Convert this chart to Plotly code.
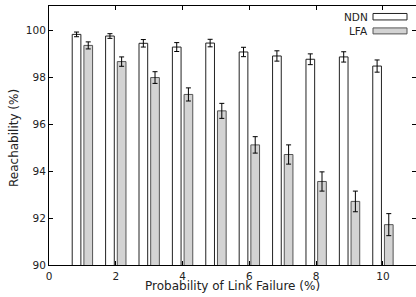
import plotly.graph_objects as go

x_vals = [1, 2, 3, 4, 5, 6, 7, 8, 9, 10]
ndn = [99.83, 99.76, 99.45, 99.29, 99.46, 99.08, 98.91, 98.77, 98.87, 98.48]
ndn_err = [0.10, 0.10, 0.16, 0.19, 0.16, 0.20, 0.22, 0.23, 0.22, 0.26]
lfa = [99.36, 98.67, 97.99, 97.27, 96.57, 95.12, 94.71, 93.56, 92.71, 91.72]
lfa_err = [0.15, 0.20, 0.25, 0.28, 0.32, 0.35, 0.41, 0.41, 0.44, 0.47]
x_ticks = [0, 2, 4, 6, 8, 10]
y_ticks = [90, 92, 94, 96, 98, 100]

W, H = 416, 297
L, R, T, B = 49, 0, 5.5, 31.5
pw, ph = W - L - R, H - T - B

def px(xp):
    return (xp - L) / pw

def py(yp):
    return (H - B - yp) / ph

font = "DejaVu Sans, Liberation Sans, Arial, sans-serif"

fig = go.Figure()
fig.add_trace(go.Bar(
    x=x_vals, y=ndn, name="NDN",
    marker=dict(color="white", line=dict(color="#222", width=1)),
    error_y=dict(type="data", array=ndn_err, color="black", thickness=1, width=2.5),
    showlegend=False,
))
fig.add_trace(go.Bar(
    x=x_vals, y=lfa, name="LFA",
    marker=dict(color="#d3d3d3", line=dict(color="#555", width=1)),
    error_y=dict(type="data", array=lfa_err, color="black", thickness=1, width=2.5),
    showlegend=False,
))
# invisible trace for right-side ticks
fig.add_trace(go.Scatter(x=[0], y=[90], yaxis="y2", mode="markers",
                         marker=dict(opacity=0), showlegend=False, hoverinfo="skip"))

fig.update_layout(
    width=W, height=H,
    margin=dict(l=L, r=R, t=T, b=B, pad=0, autoexpand=False),
    paper_bgcolor="white", plot_bgcolor="white",
    barmode="group", bargap=0.3, bargroupgap=0.257,
    font=dict(family=font, size=11, color="#222"),
    xaxis=dict(range=[0, 10.99], tickvals=x_ticks, ticks="inside", ticklen=4,
               tickcolor="black", showline=True, linecolor="black", linewidth=1,
               mirror="ticks", showgrid=False, zeroline=False, automargin=False,
               ticklabelstandoff=1,
               tickfont=dict(size=10.5, family=font)),
    yaxis=dict(range=[90, 101.04], tickvals=y_ticks, ticks="inside", ticklen=4,
               tickcolor="black", showline=True, linecolor="black", linewidth=1,
               showgrid=False, zeroline=False, automargin=False,
               tickfont=dict(size=10.5, family=font)),
    yaxis2=dict(range=[90, 101.04], tickvals=y_ticks, ticks="inside", ticklen=4,
                tickcolor="black", overlaying="y", side="right", showticklabels=False,
                showline=False, showgrid=False, zeroline=False, automargin=False),
)

# axis titles
fig.add_annotation(text="Probability of Link Failure (%)", xref="paper", yref="paper",
                   x=px(232.5), y=py(287), xanchor="center", yanchor="middle",
                   showarrow=False, font=dict(size=12, family=font, color="#222"))
fig.add_annotation(text="Reachability (%)", xref="paper", yref="paper",
                   x=px(14), y=py(138), xanchor="center", yanchor="middle", textangle=-90,
                   showarrow=False, font=dict(size=12, family=font, color="#222"))

# legend (gnuplot style: text then sample box)
legend_items = [("NDN", "white", "#222", 13.0, 19.5), ("LFA", "#d3d3d3", "#555", 27.5, 33.5)]
for name, fill, line, y0, y1 in legend_items:
    fig.add_shape(type="rect", xref="paper", yref="paper",
                  x0=px(373), x1=px(407), y0=py(y1), y1=py(y0),
                  fillcolor=fill, line=dict(color=line, width=1))
    fig.add_annotation(text=name, xref="paper", yref="paper",
                       x=px(369.5), y=py((y0 + y1) / 2), xanchor="right", yanchor="middle",
                       showarrow=False, font=dict(size=10.5, family=font, color="#222"))

fig.write_html("out.html", config={"displayModeBar": False},
               post_script="document.body.style.margin='0';document.body.style.overflow='hidden';")
